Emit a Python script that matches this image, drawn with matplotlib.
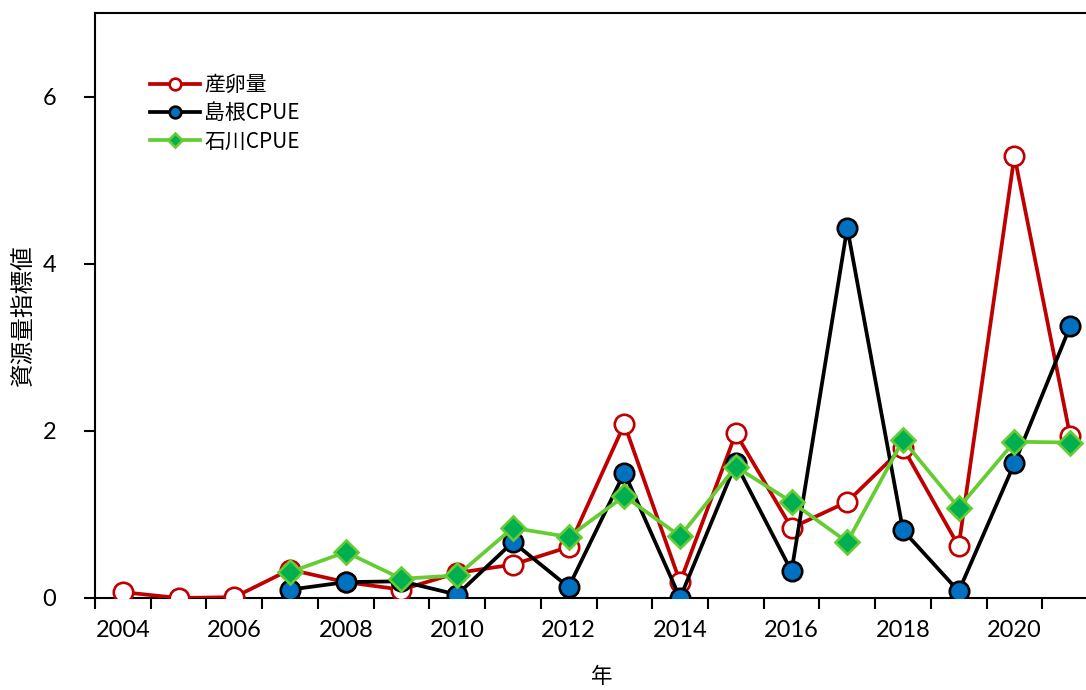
import numpy as np
import matplotlib.pyplot as plt
from matplotlib.ticker import FixedLocator

# データ
years = np.arange(2004, 2022)
sanran = [0.07, 0.00, 0.01, 0.34, 0.19, 0.10, 0.30, 0.40, 0.61, 2.08,
          0.19, 1.97, 0.84, 1.15, 1.80, 0.62, 5.29, 1.94]
cpue_years = np.arange(2007, 2022)
shimane = [0.10, 0.19, 0.20, 0.04, 0.67, 0.13, 1.50, 0.00, 1.61, 0.32,
           4.43, 0.81, 0.08, 1.61, 3.25]
ishikawa = [0.31, 0.55, 0.23, 0.27, 0.84, 0.73, 1.22, 0.74, 1.57, 1.15,
            0.67, 1.89, 1.08, 1.87, 1.86]

labels = ['産卵量', '島根CPUE', '石川CPUE']
cjk = ['Noto Sans CJK JP', 'DejaVu Sans']

fig = plt.figure(figsize=(10.86, 6.9), dpi=100)
ax = fig.add_axes([95 / 1086, 92 / 690, 1003 / 1086, 585 / 690])

ax.plot(years, sanran, color='#C00000', lw=2.7, marker='o', ms=14,
        mfc='white', mec='#C00000', mew=1.9, label=labels[0], zorder=3)
ax.plot(cpue_years, shimane, color='black', lw=2.7, marker='o', ms=14,
        mfc='#0070C0', mec='black', mew=1.9, label=labels[1], zorder=4)
ax.plot(cpue_years, ishikawa, color='#66CC33', lw=2.7, marker='D', ms=12,
        mfc='#00B050', mec='#66CC33', mew=1.9, label=labels[2], zorder=5)

ax.set_xlim(2003.5, 2021.5)
ax.set_ylim(0, 7)

# 目盛り: 区切り線は年の境界、ラベルは偶数年
ax.xaxis.set_major_locator(FixedLocator(np.arange(2003.5, 2022, 1)))
ax.xaxis.set_minor_locator(FixedLocator(years[::2]))
ax.set_xticklabels([], minor=False)
ax.set_xticklabels([str(y) for y in years[::2]], minor=True)
ax.tick_params(axis='x', which='major', direction='out', length=8, width=1.5)
ax.tick_params(axis='x', which='minor', length=0, pad=16, labelsize=17)
ax.set_yticks([0, 2, 4, 6])
ax.tick_params(axis='y', direction='out', length=8, width=1.5, pad=20, labelsize=17)
for lab in ax.get_xticklabels(minor=True) + ax.get_yticklabels():
    lab.set_fontfamily('Lato')

for s in ['left', 'bottom', 'top']:
    ax.spines[s].set_linewidth(1.5)
ax.spines['right'].set_visible(False)

ax.set_ylabel('資源量指標値', fontsize=17, family=cjk)
ax.yaxis.set_label_coords(-0.059, 0.484)
ax.set_xlabel('年', fontsize=15.5, family=cjk)
ax.xaxis.set_label_coords(0.5055, -0.116)

ax.legend(loc='upper left', bbox_to_anchor=(150 / 1086, 1 - 74 / 690),
          bbox_transform=fig.transFigure, frameon=False, borderpad=0,
          borderaxespad=0, markerscale=0.6, handlelength=2.4,
          handletextpad=0.2, labelspacing=0.3,
          prop={'family': cjk, 'size': 15})

fig.savefig('out.png', dpi=100)
